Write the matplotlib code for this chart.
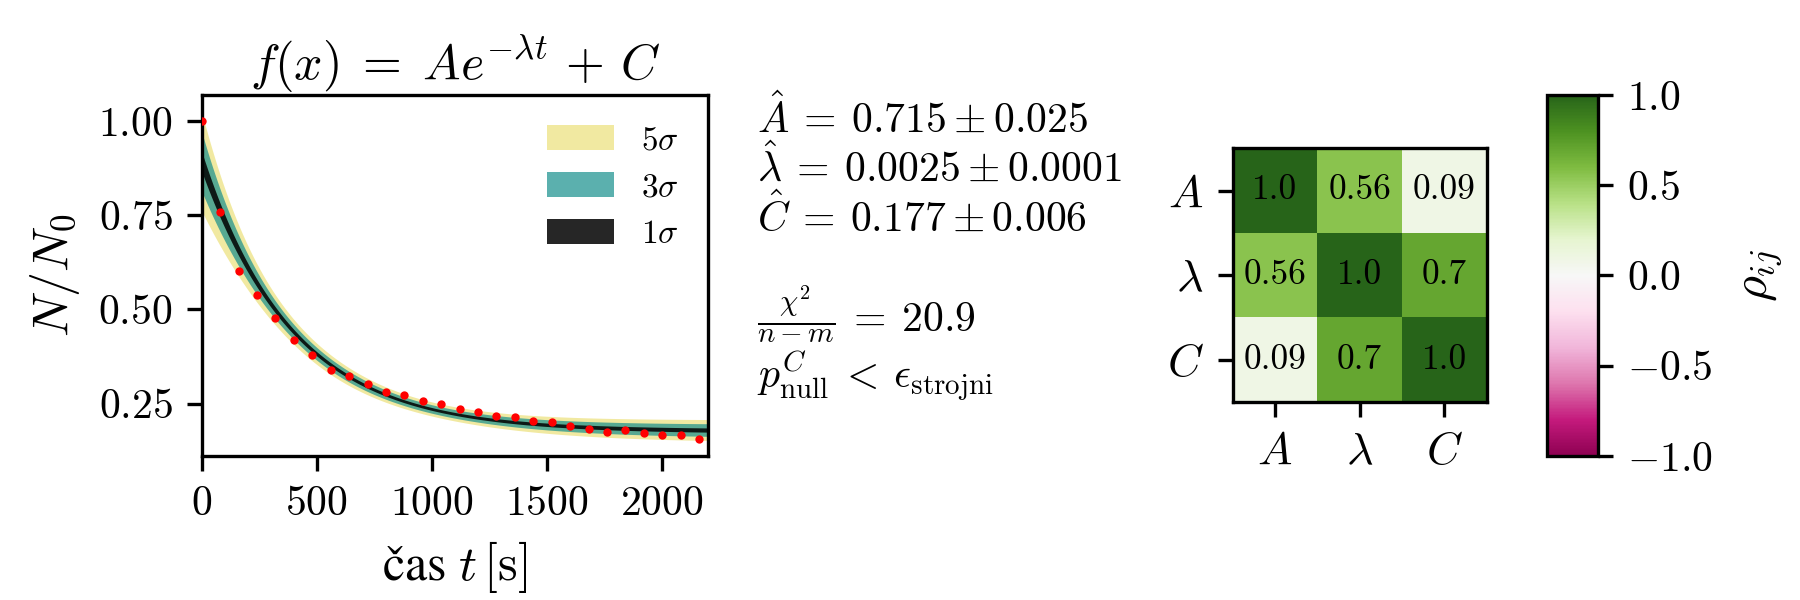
import numpy as np
import matplotlib
matplotlib.use("Agg")
import matplotlib.pyplot as plt
from matplotlib.patches import Patch
from matplotlib.ticker import FormatStrFormatter

plt.rcParams["font.family"] = ["cmr10", "STIXGeneral"]
plt.rcParams["mathtext.fontset"] = "cm"
plt.rcParams["axes.formatter.use_mathtext"] = True
plt.rcParams["axes.unicode_minus"] = True

# measured decay data
t_data = [0, 80, 160, 240, 320, 400, 480, 560, 640, 720, 800, 880, 960, 1040,
          1120, 1200, 1280, 1360, 1440, 1520, 1600, 1680, 1760, 1840, 1920,
          2000, 2080, 2160]
n_data = [1.00, 0.758, 0.601, 0.539, 0.477, 0.418, 0.380, 0.340, 0.324, 0.303,
          0.282, 0.272, 0.257, 0.250, 0.236, 0.228, 0.218, 0.215, 0.204, 0.202,
          0.190, 0.183, 0.174, 0.179, 0.171, 0.168, 0.167, 0.156]

# fit result
params = [0.715, 0.0025, 0.177]
errors = [0.025, 0.0001, 0.006]
param_names = [r"$A$", r"$\lambda$", r"$C$"]
corr = [[1.0, 0.56, 0.09],
        [0.56, 1.0, 0.7],
        [0.09, 0.7, 1.0]]
corr_labels = [["1.0", "0.56", "0.09"],
               ["0.56", "1.0", "0.7"],
               ["0.09", "0.7", "1.0"]]
chi2_red = 20.9

band_levels = [5, 3, 1]
band_colors = {5: ("#ece07a", 0.7), 3: ("#168f8c", 0.7), 1: ("#000000", 0.85)}


def model(t, A, lam, C):
    return A * np.exp(-lam * t) + C


def model_sigma(t, A, lam, C):
    # error propagation with the full covariance matrix
    e = np.exp(-lam * t)
    grad = np.vstack([e, -A * t * e, np.ones_like(t)])
    sig = np.array(errors)
    cov = np.array(corr) * np.outer(sig, sig)
    return np.sqrt(np.einsum("in,ij,jn->n", grad, cov, grad))


fig = plt.figure(figsize=(6, 2), dpi=300)

# --- fit panel ---
ax = fig.add_axes([0.1121, 0.24, 0.2814, 0.6017])
tt = np.linspace(0, 2200, 400)
ff = model(tt, *params)
ss = model_sigma(tt, *params)
handles = []
for k in band_levels:
    col, alpha = band_colors[k]
    ax.fill_between(tt, ff - k * ss, ff + k * ss, color=col, alpha=alpha, lw=0)
    handles.append(Patch(facecolor=col, alpha=alpha, edgecolor="none",
                         label=rf"${k}\sigma$"))
ax.plot(t_data, n_data, "o", color="red", ms=2.0, mew=0, zorder=5)
ax.set_xlim(0, 2200)
ax.set_ylim(0.111, 1.069)
ax.set_xticks([0, 500, 1000, 1500, 2000])
ax.set_yticks([0.25, 0.5, 0.75, 1.0])
ax.yaxis.set_major_formatter(FormatStrFormatter(r"$%.2f$"))
ax.xaxis.set_major_formatter(FormatStrFormatter(r"$%d$"))
ax.tick_params(labelsize=10)
# cmr10 has no "č", so this label uses STIX for the plain text part
ax.set_xlabel(r"čas $t\,[\mathrm{s}]$", fontsize=12, family="STIXGeneral")
ax.set_ylabel(r"$N/N_0$", fontsize=12)
ax.set_title(r"$f(x) \;=\; Ae^{-\lambda t} \,+\, C$", fontsize=12, pad=3)
ax.legend(handles=handles, loc="upper right", frameon=False, fontsize=8,
          handleheight=0.8)

# --- fit parameters ---
tx = 0.4204
fs = 10
fig.text(tx, 0.7783, rf"$\hat{{A}} \:=\: {params[0]} \pm {errors[0]}$",
         fontsize=fs, va="baseline")
fig.text(tx, 0.6972, rf"$\!\hat{{\,\lambda}} \:=\: {params[1]} \pm {errors[1]}$",
         fontsize=fs, va="baseline")
fig.text(tx, 0.6138, rf"$\hat{{C}} \:=\: {params[2]} \pm {errors[2]}$",
         fontsize=fs, va="baseline")
fig.text(tx, 0.445, rf"$\frac{{\chi^2}}{{n-m}} \:=\: {chi2_red}$",
         fontsize=fs, va="baseline")
fig.text(tx, 0.352, r"$p_{\mathrm{null}}^{C} \:<\: \epsilon_{\mathrm{strojni}}$",
         fontsize=fs, va="baseline")

# --- correlation matrix ---
axh = fig.add_axes([0.6848, 0.3295, 0.1411, 0.4233])
im = axh.imshow(corr, cmap="PiYG", vmin=-1, vmax=1)
for i in range(3):
    for j in range(3):
        axh.text(j, i, corr_labels[i][j], ha="center", va="center", fontsize=8.5)
axh.set_xticks(range(3))
axh.set_yticks(range(3))
axh.set_xticklabels(param_names)
axh.set_yticklabels(param_names)
axh.tick_params(labelsize=11)

cax = fig.add_axes([0.8596, 0.24, 0.0283, 0.6017])
cb = fig.colorbar(im, cax=cax, ticks=[-1, -0.5, 0, 0.5, 1])
cb.ax.yaxis.set_major_formatter(FormatStrFormatter(r"$%.1f$"))
cb.ax.tick_params(labelsize=10)
cb.set_label(r"$\rho_{ij}$", fontsize=12, labelpad=6)

fig.savefig("out.png", dpi=300)
